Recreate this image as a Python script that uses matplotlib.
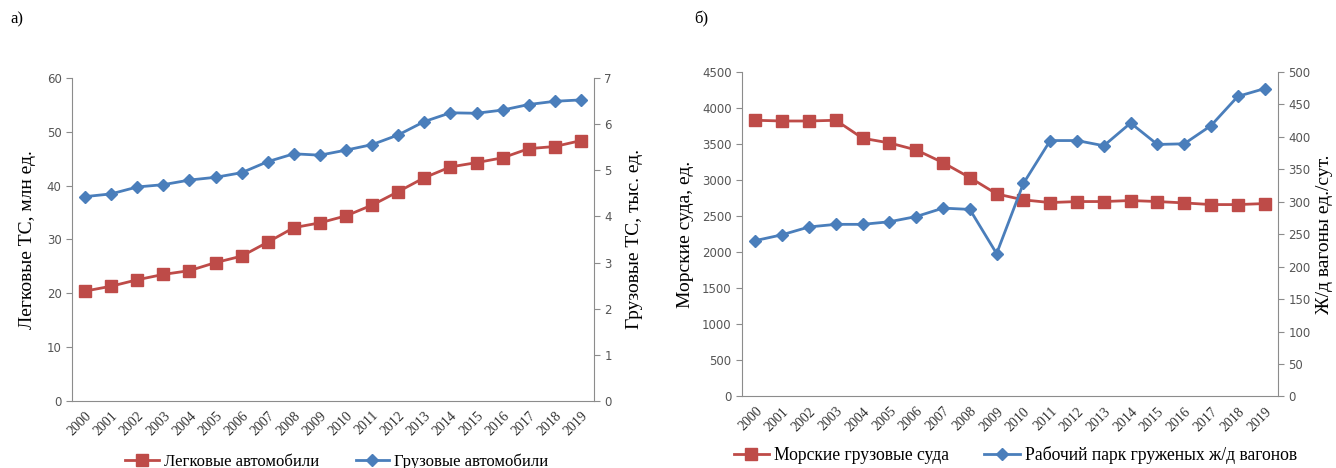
import matplotlib
matplotlib.use("Agg")
from matplotlib import pyplot as plt

years = [str(y) for y in range(2000, 2020)]

# а) passenger cars (mln) and trucks (thousand)
cars = [20.4, 21.3, 22.5, 23.5, 24.2, 25.7, 26.9, 29.5, 32.2, 33.1,
        34.4, 36.4, 38.9, 41.5, 43.5, 44.3, 45.2, 46.9, 47.3, 48.4]
trucks = [4.43, 4.49, 4.64, 4.69, 4.79, 4.85, 4.95, 5.19, 5.36, 5.33,
          5.44, 5.56, 5.77, 6.06, 6.25, 6.24, 6.31, 6.43, 6.50, 6.53]

# б) sea cargo ships and loaded rail wagons
ships = [3827, 3817, 3817, 3827, 3578, 3513, 3416, 3240, 3033, 2807,
         2724, 2687, 2701, 2701, 2715, 2701, 2682, 2659, 2659, 2673]
wagons = [240, 249, 261, 265, 265, 269, 277, 290, 288, 220,
          328, 394, 394, 386, 421, 388, 389, 417, 462, 474]

RED = "#BE4B48"
BLUE = "#4A7EBB"
GRAY = "#8C8C8C"

plt.rcParams["font.family"] = "Liberation Serif"


def style(ax, side):
    for s in ax.spines.values():
        s.set_visible(False)
    ax.spines[side].set_visible(True)
    ax.spines[side].set_color(GRAY)
    ax.tick_params(axis="y", colors=GRAY, labelcolor="#555555", length=4,
                   labelsize=8.5, direction="out")
    for lab in ax.get_yticklabels():
        lab.set_family("DejaVu Sans")


def xaxis(ax):
    ax.spines["bottom"].set_visible(True)
    ax.spines["bottom"].set_color(GRAY)
    ax.set_xlim(-0.5, len(years) - 0.5)
    ax.set_xticks(range(len(years)))
    ax.set_xticklabels(years, rotation=45, ha="right", va="top",
                       rotation_mode="anchor", fontsize=10, color="#333333")
    ax.tick_params(axis="x", length=0, pad=6)


fig = plt.figure(figsize=(13.36, 4.68), dpi=100)

# ---- а) ----
ax1 = fig.add_axes([0.0539, 0.1438, 0.3907, 0.689])
ax1b = ax1.twinx()
ax1.plot(range(len(years)), cars, color=RED, lw=2, marker="s", ms=9,
         mec=RED, label="Легковые автомобили", zorder=3)
ax1b.plot(range(len(years)), trucks, color=BLUE, lw=2, marker="D", ms=6,
          mec=BLUE, label="Грузовые автомобили", zorder=3)
ax1.set_ylim(0, 60)
ax1.set_yticks(range(0, 61, 10))
ax1b.set_ylim(0, 7)
ax1b.set_yticks(range(0, 8))
style(ax1, "left")
style(ax1b, "right")
xaxis(ax1)
ax1.set_ylabel("Легковые ТС, млн ед.", fontsize=14, labelpad=8)
ax1b.set_ylabel("Грузовые ТС, тыс. ед.", fontsize=14, labelpad=10)
h1, l1 = ax1.get_legend_handles_labels()
h2, l2 = ax1b.get_legend_handles_labels()
fig.legend(h1 + h2, l1 + l2, loc="center", bbox_to_anchor=(0.252, 0.013),
           ncol=2, frameon=False, fontsize=12, handlelength=2.0,
           columnspacing=2.2, handletextpad=0.3)
fig.text(0.008, 0.95, "а)", fontsize=12)

# ---- б) ----
ax2 = fig.add_axes([0.5554, 0.1528, 0.4012, 0.694])
ax2b = ax2.twinx()
ax2.plot(range(len(years)), ships, color=RED, lw=2, marker="s", ms=9,
         mec=RED, label="Морские грузовые суда", zorder=3)
ax2b.plot(range(len(years)), wagons, color=BLUE, lw=2, marker="D", ms=6,
          mec=BLUE, label="Рабочий парк груженых ж/д вагонов", zorder=3)
ax2.set_ylim(0, 4500)
ax2.set_yticks(range(0, 4501, 500))
ax2b.set_ylim(0, 500)
ax2b.set_yticks(range(0, 501, 50))
style(ax2, "left")
style(ax2b, "right")
xaxis(ax2)
ax2.set_ylabel("Морские суда, ед.", fontsize=14, labelpad=6)
ax2b.set_ylabel("Ж/д вагоны ед./сут.", fontsize=14, labelpad=4)
h1, l1 = ax2.get_legend_handles_labels()
h2, l2 = ax2b.get_legend_handles_labels()
fig.legend(h1 + h2, l1 + l2, loc="center", bbox_to_anchor=(0.76, 0.028),
           ncol=2, frameon=False, fontsize=12.7, handlelength=2.0,
           columnspacing=2.0, handletextpad=0.3)
fig.text(0.52, 0.95, "б)", fontsize=12)

fig.savefig("out.png", dpi=100)
